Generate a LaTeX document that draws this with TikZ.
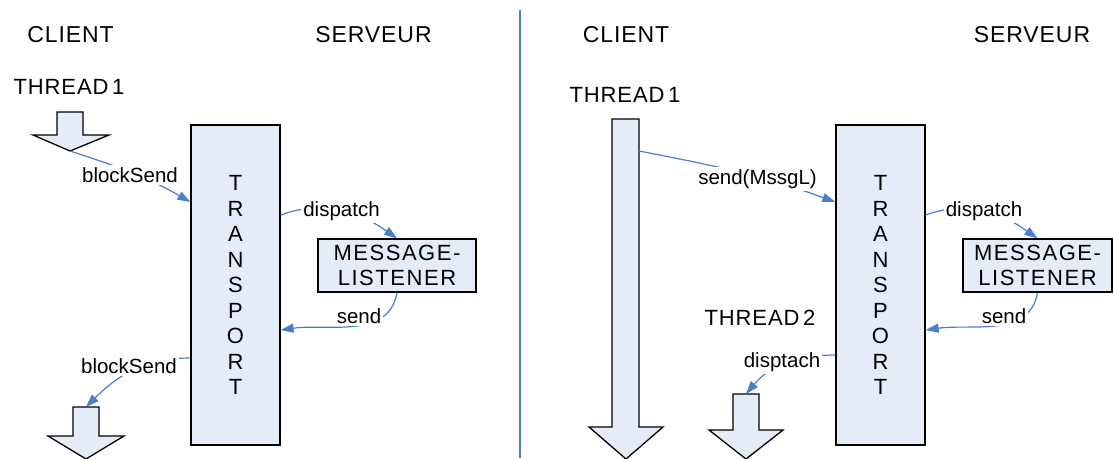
\documentclass[tikz,border=0pt]{standalone}
\usepackage{fontspec}
\setmainfont{Liberation Sans}
\newfontfamily\capsfont[LetterSpace=4]{Liberation Sans}
\newfontfamily\boxfont[LetterSpace=7]{Liberation Sans}
\usetikzlibrary{arrows.meta}

\definecolor{panefill}{HTML}{E6ECF7}
\definecolor{linkblue}{HTML}{4A7EC8}

\tikzset{
  heading/.style={font=\capsfont\fontsize{23}{27}\selectfont, inner sep=0pt},
  threadname/.style={font=\capsfont\fontsize{22}{26}\selectfont, inner sep=0pt},
  transport/.style={draw=black, line width=1.3pt, fill=panefill,
    minimum width=89pt, minimum height=320pt, inner sep=0pt, align=center,
    font=\fontsize{22}{25.5}\selectfont},
  listener/.style={draw=black, line width=1.3pt, fill=panefill,
    minimum width=158pt, minimum height=53pt, inner sep=0pt, align=center,
    font=\boxfont\fontsize{22}{25.5}\selectfont},
  msg/.style={font=\fontsize{20.5}{24}\selectfont, fill=white, inner sep=2pt},
  link/.style={draw=linkblue, line width=1.2pt, -{Triangle[length=13pt,width=9pt]}},
  blockarrow/.style={draw=black, line width=1.3pt, fill=panefill, line join=miter},
  divider/.style={draw=linkblue, line width=1.3pt}
}

\begin{document}
\begin{tikzpicture}[x=1pt,y=1pt]
\useasboundingbox (0,0) rectangle (1114,-458);

% separator between the two scenarios
\draw[divider] (520,-10) -- (520,-458);

% ---------- left scenario: blocking send ----------
\node[heading] (cliA) at (70.5,-35) {CLIENT};
\node[heading] (srvA) at (373.5,-35) {SERVEUR};
\node[threadname] (thA) at (69,-86.5) {THREAD\,1};

% thread 1 before and after the blocking call
\draw[blockarrow] (57,-112) -- (83,-112) -- (83,-135) -- (109,-135) -- (70,-151)
  -- (33,-135) -- (57,-135) -- cycle;
\coordinate (tipA) at (70,-151);
\draw[blockarrow] (73,-407) -- (99,-407) -- (99,-436) -- (124,-436) -- (86,-459)
  -- (48,-436) -- (73,-436) -- cycle;
\coordinate (inA) at (86,-407);

\node[transport] (trA) at (235.5,-285) {T\\R\\A\\N\\S\\P\\O\\R\\T};
\node[listener] (lsA) at (397,-265.5) {MESSAGE-\\LISTENER};

\draw[link] (tipA) to[out=-18,in=150] ([yshift=83pt]trA.west);
\node[msg] (bsA) at (130,-175) {blockSend};

\draw[link] ([yshift=-73pt]trA.west) to[out=180,in=45] (inA);
\node[msg] (brA) at (129,-366) {blockSend};

\draw[link] ([yshift=70pt]trA.east) to[out=20,in=145] (lsA.north);
\node[msg] (dpA) at (341.5,-211) {dispatch};

\draw[link] (lsA.south) to[out=-100,in=8] ([yshift=-45pt]trA.east);
\node[msg] (sdA) at (359,-316) {send};

% ---------- right scenario: asynchronous send ----------
\node[heading] (cliB) at (626,-35) {CLIENT};
\node[heading] (srvB) at (1032,-35) {SERVEUR};
\node[threadname] (thB) at (625,-95) {THREAD\,1};
\node[threadname] (thC) at (760,-318) {THREAD\,2};

% thread 1 keeps running, thread 2 receives the reply
\draw[blockarrow] (612,-119) -- (639,-119) -- (639,-427) -- (663,-427) -- (626,-459)
  -- (589,-427) -- (612,-427) -- cycle;
\coordinate (outB) at (639,-151);
\draw[blockarrow] (733,-394) -- (759,-394) -- (759,-430) -- (783,-430) -- (746,-459)
  -- (709,-430) -- (733,-430) -- cycle;
\coordinate (inB) at (746,-394);

\node[transport] (trB) at (880.5,-285) {T\\R\\A\\N\\S\\P\\O\\R\\T};
\node[listener, minimum width=149pt] (lsB) at (1037.5,-265.5) {MESSAGE-\\LISTENER};

\draw[link] (outB) to[out=-11,in=160] ([yshift=83pt]trB.west);
\node[msg] (snB) at (757.5,-179) {send(MssgL)};

\draw[link] ([yshift=70pt]trB.east) to[out=20,in=145] (lsB.north);
\node[msg] (dpB) at (984,-211) {dispatch};

\draw[link] (lsB.south) to[out=-100,in=8] ([yshift=-45pt]trB.east);
\node[msg] (sdB) at (1004,-316) {send};

\draw[link] ([yshift=-70pt]trB.west) to[out=180,in=50] (inB);
\node[msg] (dtB) at (782,-362) {disptach};
\end{tikzpicture}
\end{document}
